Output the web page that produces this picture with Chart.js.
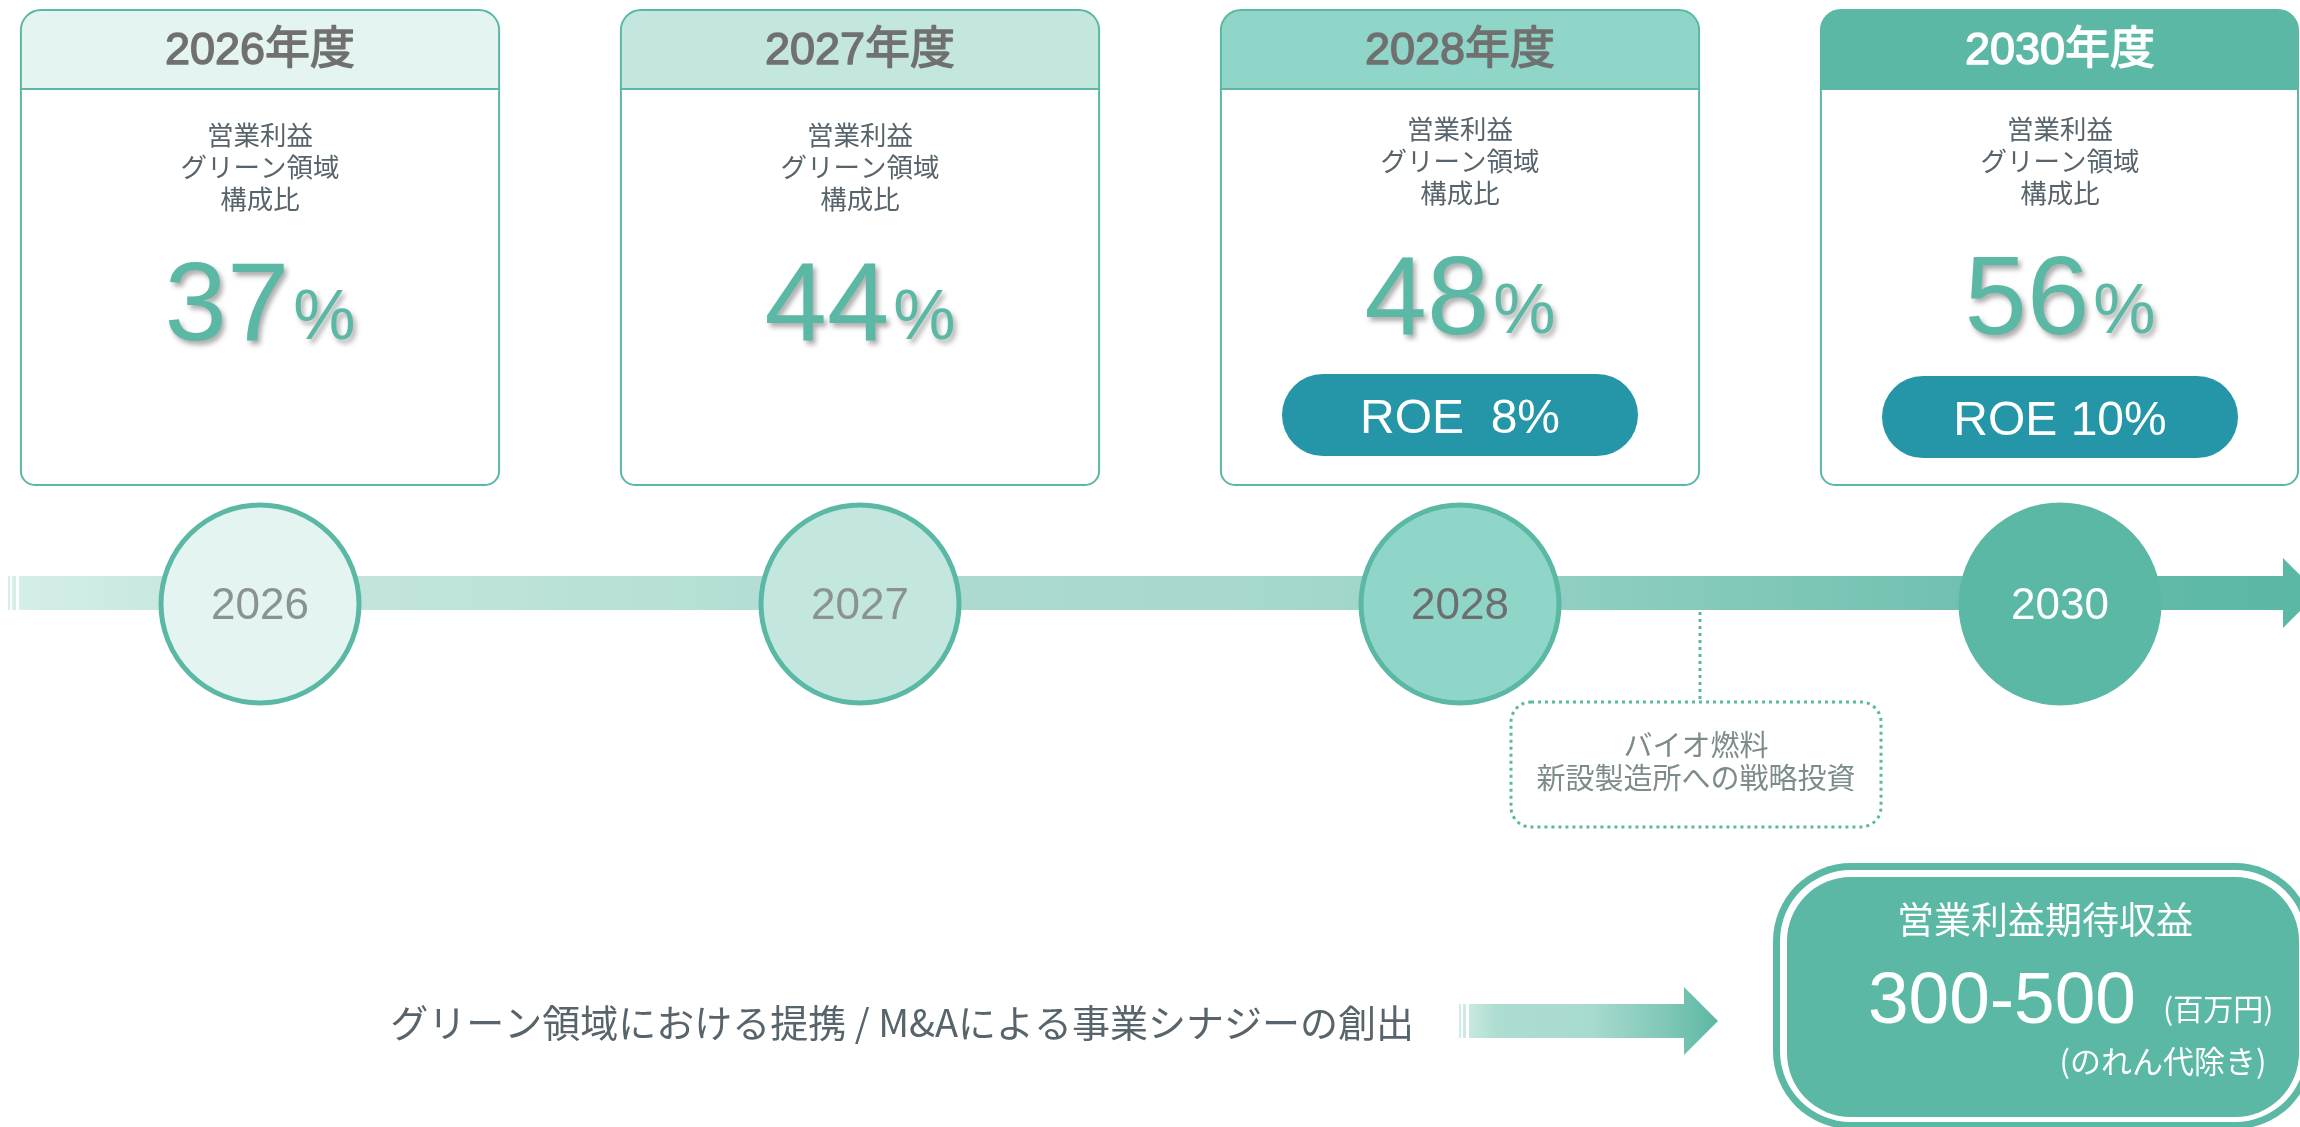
<!DOCTYPE html>
<html><head><meta charset="utf-8">
<script src="https://cdn.jsdelivr.net/npm/chart.js@4.4.1/dist/chart.umd.min.js"></script>
<style>html,body{margin:0;padding:0;background:#fff;overflow:hidden}canvas{display:block}</style>
</head><body>
<canvas id="c" width="2300" height="1127"></canvas>
<script>
// ---- data ----
const years = ['2026', '2027', '2028', '2030'];
const fiscalLabels = ['2026年度', '2027年度', '2028年度', '2030年度'];
const greenShare = [37, 44, 48, 56];
const roe = [null, null, 8, 10];
const metricLines = ['営業利益', 'グリーン領域', '構成比'];
const investNote = ['バイオ燃料', '新設製造所への戦略投資'];
const synergyText = 'グリーン領域における提携 / M&Aによる事業シナジーの創出';
const expectedLabel = '営業利益期待収益';
const expectedRange = [300, 500];
const expectedUnit = '(百万円)';
const expectedNote = '(のれん代除き)';

// ---- styles ----
const stageFill = ['#e4f4f0', '#c3e7de', '#8fd6c8', '#5bb8a4'];
const headerText = ['#707070', '#707070', '#707070', '#ffffff'];
const circleText = ['#8a9294', '#8a9294', '#6e6e6e', '#ffffff'];
const TEAL = '#5bb8a4';
const PILL = '#2596a8';
const LAT = '"Liberation Sans", "Noto Sans CJK JP", sans-serif';
const JP = '"Noto Sans CJK JP", sans-serif';
const TIMELINE_Y = 604;
const INVEST_POS = 2.4;

function rr(ctx, x, y, w, h, r) {
  ctx.beginPath();
  ctx.roundRect(x, y, w, h, r);
}

const infographic = {
  id: 'infographic',
  beforeDatasetsDraw(chart) {
    const ctx = chart.ctx;
    const xs = chart.scales.x, ys = chart.scales.y;
    const X = v => xs.getPixelForValue(v);
    const Y = v => ys.getPixelForValue(v);
    const step = X(1) - X(0);
    ctx.save();

    // timeline bar
    const bTop = Y(576), bBot = Y(610);
    const g = ctx.createLinearGradient(0, 0, 2300, 0);
    g.addColorStop(0, '#d6efe9');
    g.addColorStop(0.07, '#c8e8e0');
    g.addColorStop(0.43, '#acdad0');
    g.addColorStop(0.565, '#a5d8cc');
    g.addColorStop(0.68, '#90cfc1');
    g.addColorStop(0.95, '#5fb9a6');
    g.addColorStop(1, '#5bb8a4');
    ctx.fillStyle = g;
    ctx.fillRect(8, bTop, 2, bBot - bTop);
    ctx.fillRect(12, bTop, 4, bBot - bTop);
    const arrowX = 2283;
    ctx.fillRect(19, bTop, arrowX - 19, bBot - bTop);
    ctx.fillStyle = TEAL;
    ctx.beginPath();
    ctx.moveTo(arrowX, Y(558));
    ctx.lineTo(arrowX + 35, (Y(558) + Y(628)) / 2);
    ctx.lineTo(arrowX, Y(628));
    ctx.closePath();
    ctx.fill();

    // investment connector + dotted box
    const ix = X(INVEST_POS);
    ctx.strokeStyle = TEAL;
    ctx.lineWidth = 3;
    ctx.setLineDash([3, 4]);
    ctx.beginPath();
    ctx.moveTo(ix, Y(612));
    ctx.lineTo(ix, Y(702));
    ctx.stroke();
    rr(ctx, 1511, Y(702), 370, 125, 20);
    ctx.stroke();
    ctx.setLineDash([]);
    ctx.fillStyle = '#7d8b8b';
    ctx.font = '29px ' + JP;
    ctx.textAlign = 'center';
    ctx.textBaseline = 'middle';
    ctx.fillText(investNote[0], 1696, Y(745));
    ctx.fillText(investNote[1], 1696, Y(778));

    // cards
    years.forEach((yr, i) => {
      const cx = X(i);
      const w = step * 0.797;
      let left = cx - w / 2;
      let right = Math.min(cx + w / 2, 2298);
      const top = Y(10), hb = Y(89), bot = Y(485);
      const sh = roe[i] != null ? -6 : 0;
      rr(ctx, left, top, right - left, bot - top, [20, 20, 14, 14]);
      ctx.fillStyle = '#ffffff';
      ctx.fill();
      ctx.save();
      rr(ctx, left, top, right - left, bot - top, [20, 20, 14, 14]);
      ctx.clip();
      ctx.fillStyle = stageFill[i];
      ctx.fillRect(left, top, right - left, hb - top);
      ctx.restore();
      ctx.strokeStyle = TEAL;
      ctx.lineWidth = 2;
      rr(ctx, left, top, right - left, bot - top, [20, 20, 14, 14]);
      ctx.stroke();
      ctx.beginPath();
      ctx.moveTo(left, hb);
      ctx.lineTo(right, hb);
      ctx.stroke();

      // header text (medium weight)
      ctx.fillStyle = headerText[i];
      ctx.strokeStyle = headerText[i];
      ctx.lineWidth = 1.4;
      ctx.lineJoin = 'round';
      ctx.font = '45px ' + LAT;
      ctx.textAlign = 'center';
      ctx.textBaseline = 'alphabetic';
      ctx.fillText(fiscalLabels[i], cx, Y(64));
      ctx.strokeText(fiscalLabels[i], cx, Y(64));

      ctx.fillStyle = '#58646b';
      ctx.font = '26.5px ' + JP;
      ctx.textBaseline = 'middle';
      metricLines.forEach((t, k) => ctx.fillText(t, cx, Y(135 + sh + 32 * k)));

      const num = String(greenShare[i]);
      ctx.font = '112px "Liberation Sans", sans-serif';
      const wn = ctx.measureText(num).width;
      ctx.font = '70px "Liberation Sans", sans-serif';
      const wp = ctx.measureText('%').width;
      const gap = 4;
      const sx = cx - (wn + gap + wp) / 2;
      ctx.save();
      ctx.shadowColor = 'rgba(0,0,0,0.32)';
      ctx.shadowBlur = 5;
      ctx.shadowOffsetX = 3;
      ctx.shadowOffsetY = 4;
      ctx.fillStyle = TEAL;
      ctx.textAlign = 'left';
      ctx.textBaseline = 'alphabetic';
      ctx.font = '112px "Liberation Sans", sans-serif';
      ctx.fillText(num, sx, Y(340 + sh));
      ctx.font = '70px "Liberation Sans", sans-serif';
      ctx.fillText('%', sx + wn + gap, Y(339 + sh));
      ctx.restore();

      if (roe[i] != null) {
        const pw = 356, ph = 82;
        const py = Y(374 + (i === 3 ? 2 : 0));
        rr(ctx, cx - pw / 2, py, pw, ph, ph / 2);
        ctx.fillStyle = PILL;
        ctx.fill();
        ctx.fillStyle = '#ffffff';
        ctx.font = '48px "Liberation Sans", sans-serif';
        ctx.textAlign = 'center';
        ctx.textBaseline = 'alphabetic';
        const txt = 'ROE' + (roe[i] < 10 ? '  ' : ' ') + roe[i] + '%';
        ctx.fillText(txt, cx, py + 59);
      }
    });

    // bottom synergy text
    ctx.fillStyle = '#58646b';
    ctx.font = '38px ' + JP;
    ctx.textAlign = 'right';
    ctx.textBaseline = 'middle';
    ctx.fillText(synergyText, 1414, Y(1023));

    // bottom arrow
    const ag = ctx.createLinearGradient(1459, 0, 1718, 0);
    ag.addColorStop(0, '#d2ede7');
    ag.addColorStop(0.15, '#addcd1');
    ag.addColorStop(0.5, '#a8dbd0');
    ag.addColorStop(0.8, '#80c7b7');
    ag.addColorStop(1, '#5bb8a4');
    ctx.fillStyle = ag;
    ctx.fillRect(1459, Y(1004), 2, 34);
    ctx.fillRect(1463, Y(1004), 3, 34);
    ctx.fillRect(1469, Y(1004), 1684 - 1469, 34);
    ctx.beginPath();
    ctx.moveTo(1684, Y(987));
    ctx.lineTo(1718, Y(1021));
    ctx.lineTo(1684, Y(1055));
    ctx.closePath();
    ctx.fill();

    // expected result box
    rr(ctx, 1773, Y(863), 540, 266, 78);
    ctx.fillStyle = TEAL;
    ctx.fill();
    rr(ctx, 1780, Y(870), 526, 252, 71);
    ctx.fillStyle = '#ffffff';
    ctx.fill();
    rr(ctx, 1787, Y(877), 512, 240, 64);
    ctx.fillStyle = TEAL;
    ctx.fill();

    ctx.fillStyle = '#ffffff';
    ctx.textAlign = 'center';
    ctx.textBaseline = 'middle';
    ctx.font = '37px ' + JP;
    ctx.fillText(expectedLabel, 2045, Y(920));
    ctx.textAlign = 'left';
    ctx.textBaseline = 'alphabetic';
    ctx.font = '73px "Liberation Sans", sans-serif';
    ctx.fillText(expectedRange[0] + '-' + expectedRange[1], 1868, Y(1023));
    ctx.font = '30px ' + JP;
    ctx.fillText(expectedUnit, 2163, Y(1020));
    ctx.textAlign = 'center';
    ctx.textBaseline = 'middle';
    ctx.font = '31px ' + JP;
    ctx.fillText(expectedNote, 2163, Y(1061));

    ctx.restore();
  },
  afterDatasetsDraw(chart) {
    const ctx = chart.ctx;
    const xs = chart.scales.x, ys = chart.scales.y;
    ctx.save();
    ctx.font = '44px "Liberation Sans", sans-serif';
    ctx.textAlign = 'center';
    ctx.textBaseline = 'alphabetic';
    years.forEach((yr, i) => {
      ctx.fillStyle = circleText[i];
      ctx.fillText(yr, xs.getPixelForValue(i), ys.getPixelForValue(619));
    });
    ctx.restore();
  }
};

new Chart(document.getElementById('c'), {
  type: 'scatter',
  data: {
    datasets: [{
      label: 'timeline',
      data: years.map((y, i) => ({ x: i, y: TIMELINE_Y })),
      pointRadius: 99,
      pointHoverRadius: 99,
      pointBorderWidth: 5,
      pointHoverBorderWidth: 5,
      pointBackgroundColor: stageFill,
      pointBorderColor: TEAL,
      clip: false
    }]
  },
  options: {
    responsive: false,
    devicePixelRatio: 1,
    animation: false,
    events: [],
    layout: { padding: 0, autoPadding: false },
    scales: {
      x: { type: 'linear', min: -260 / 600, max: 2040 / 600, display: false },
      y: { type: 'linear', min: 0, max: 1127, reverse: true, display: false }
    },
    plugins: { legend: { display: false }, tooltip: { enabled: false } }
  },
  plugins: [infographic]
});
</script>
</body></html>
